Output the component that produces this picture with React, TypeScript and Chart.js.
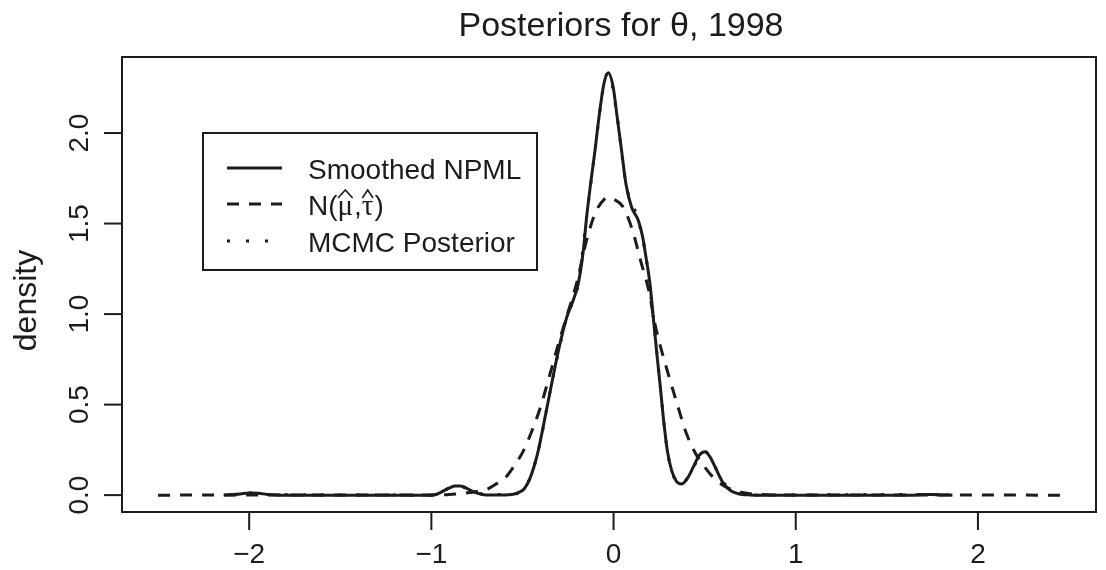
import React, { useEffect, useRef } from "react";
import { Chart, registerables } from "chart.js";

Chart.register(...registerables);

const TITLE = "Posteriors for θ, 1998";
const Y_LABEL = "density";
const X_TICKS = [-2, -1, 0, 1, 2];
const X_TICK_LABELS = ["\u22122", "\u22121", "0", "1", "2"];
const Y_TICKS = [0, 0.5, 1, 1.5, 2];
const Y_TICK_LABELS = ["0.0", "0.5", "1.0", "1.5", "2.0"];
const X_MIN = -2.698;
const X_MAX = 2.648;
const Y_MIN = -0.0932;
const Y_MAX = 2.42;
const LEGEND_LABELS = ["Smoothed NPML", "N(\u03bc\u0302,\u03c4\u0302)", "MCMC Posterior"];

// Smoothed NPML posterior (solid)
const npmlX = [
  -2.14, -2.1, -2.05, -2.0, -1.95, -1.9, -1.85, -1.8, -1.0, -0.97, -0.93, -0.9, -0.87, -0.84,
  -0.8, -0.76, -0.72, -0.68, -0.6, -0.55, -0.52, -0.49, -0.46, -0.43, -0.41, -0.38, -0.34,
  -0.3, -0.257, -0.22, -0.194, -0.166, -0.148, -0.126, -0.102, -0.08, -0.053, -0.029, -0.002,
  0.02, 0.044, 0.068, 0.099, 0.136, 0.16, 0.178, 0.2, 0.218, 0.236, 0.255, 0.273, 0.295,
  0.319, 0.346, 0.374, 0.41, 0.44, 0.47, 0.502, 0.53, 0.56, 0.6, 0.63, 0.655, 0.7, 0.75, 0.8,
  1.65, 1.7, 1.75, 1.8, 1.86,
];
const npmlY = [
  0, 0.002, 0.006, 0.012, 0.01, 0.004, 0.001, 0, 0, 0.005, 0.025, 0.04, 0.05, 0.05,
  0.035, 0.015, 0.004, 0.001, 0.001, 0.005, 0.015, 0.035, 0.09, 0.18, 0.26, 0.41, 0.614,
  0.81, 0.982, 1.08, 1.167, 1.351, 1.535, 1.719, 1.903, 2.087, 2.272, 2.333, 2.253,
  2.087, 1.903, 1.719, 1.59, 1.517, 1.424, 1.314, 1.167, 0.982, 0.798, 0.614, 0.43, 0.246,
  0.135, 0.075, 0.062, 0.1, 0.16, 0.22, 0.24, 0.21, 0.15, 0.07, 0.035, 0.018, 0.005, 0.001, 0,
  0, 0.004, 0.003, 0.001, 0,
];

// Normal posterior N(mu-hat, tau-hat) (dashed)
const normalX = [
  -2.5, -1.0, -0.95, -0.9, -0.85, -0.8, -0.75, -0.7, -0.65, -0.6, -0.55, -0.5, -0.45, -0.4,
  -0.35, -0.3, -0.25, -0.2, -0.15, -0.1, -0.05, -0.03, 0.0, 0.05, 0.1, 0.15, 0.2, 0.22, 0.25,
  0.3, 0.35, 0.4, 0.45, 0.5, 0.55, 0.6, 0.65, 0.7, 0.75, 0.8, 0.9, 2.45,
];
const normalY = [
  0, 0.001, 0.002, 0.004, 0.008, 0.013, 0.02, 0.03, 0.058, 0.09, 0.155, 0.235, 0.35, 0.49,
  0.665, 0.845, 1.01, 1.18, 1.4, 1.56, 1.635, 1.645, 1.635, 1.595, 1.475, 1.29, 1.1, 0.98, 0.85,
  0.67, 0.5, 0.34, 0.23, 0.155, 0.095, 0.055, 0.03, 0.016, 0.008, 0.004, 0.001, 0,
];

// MCMC posterior (dotted, lies under the NPML curve)
const mcmcX = [
  -2.1, -2.0, -1.9, -1.0, -0.9, -0.85, -0.8, -0.7, -0.55, -0.46, -0.41, -0.34, -0.257, -0.194,
  -0.148, -0.102, -0.053, -0.029, 0.02, 0.068, 0.136, 0.178, 0.218, 0.255, 0.295, 0.346, 0.374,
  0.44, 0.502, 0.56, 0.63, 0.7, 0.8, 1.7, 1.86,
];
const mcmcY = [
  0.002, 0.012, 0.004, 0, 0.04, 0.05, 0.035, 0.003, 0.005, 0.09, 0.26, 0.614, 0.982, 1.167,
  1.535, 1.903, 2.272, 2.333, 2.087, 1.719, 1.517, 1.314, 0.982, 0.614, 0.246, 0.075, 0.062,
  0.16, 0.24, 0.15, 0.035, 0.005, 0, 0.004, 0,
];

const FONT = '"Liberation Sans", Arial, Helvetica, sans-serif';
const SERIF = '"Liberation Serif", "DejaVu Serif", serif';
const INK = "#1c1c1c";

const toPoints = (xs: number[], ys: number[]) => xs.map((x, i) => ({ x, y: ys[i] }));

// draws "N(mu-hat, tau-hat)" with wide hats, as in the R plotmath legend
function drawHatLabel(ctx: CanvasRenderingContext2D, x: number, baseline: number) {
  const parts: { t: string; serif: boolean; hat: boolean }[] = [
    { t: "N(", serif: false, hat: false },
    { t: "\u03bc", serif: true, hat: true },
    { t: ",", serif: false, hat: false },
    { t: "\u03c4", serif: true, hat: true },
    { t: ")", serif: false, hat: false },
  ];
  let cx = x;
  parts.forEach((p) => {
    ctx.font = p.serif ? `29px ${SERIF}` : `28px ${FONT}`;
    ctx.fillText(p.t, cx, baseline);
    const w = ctx.measureText(p.t).width;
    if (p.hat) {
      ctx.save();
      ctx.lineWidth = 1.6;
      ctx.setLineDash([]);
      ctx.beginPath();
      ctx.moveTo(cx + 0.5, baseline - 17);
      ctx.lineTo(cx + w / 2, baseline - 25);
      ctx.lineTo(cx + w - 0.5, baseline - 17);
      ctx.stroke();
      ctx.restore();
    }
    cx += w + (p.hat ? 1 : 0);
  });
}

const decorPlugin = {
  id: "rdecor",
  beforeDraw(chart: any) {
    const { ctx, width, height } = chart;
    ctx.save();
    ctx.fillStyle = "#ffffff";
    ctx.fillRect(0, 0, width, height);
    ctx.restore();
  },
  afterDatasetsDraw(chart: any) {
    const { ctx, chartArea } = chart;
    const xs = chart.scales.x;
    const ys = chart.scales.y;
    const { left, right, top, bottom } = chartArea;
    ctx.save();
    ctx.strokeStyle = INK;
    ctx.fillStyle = INK;
    ctx.lineWidth = 2;
    ctx.setLineDash([]);
    // box
    ctx.strokeRect(left, top, right - left, bottom - top);

    // x ticks
    ctx.font = `28px ${FONT}`;
    ctx.textAlign = "center";
    ctx.textBaseline = "alphabetic";
    X_TICKS.forEach((v, i) => {
      const px = xs.getPixelForValue(v);
      ctx.beginPath();
      ctx.moveTo(px, bottom);
      ctx.lineTo(px, bottom + 18);
      ctx.stroke();
      ctx.fillText(X_TICK_LABELS[i], px, 563);
    });

    // y ticks
    Y_TICKS.forEach((v, i) => {
      const py = ys.getPixelForValue(v);
      ctx.beginPath();
      ctx.moveTo(left, py);
      ctx.lineTo(left - 18, py);
      ctx.stroke();
      ctx.save();
      ctx.translate(88, py);
      ctx.rotate(-Math.PI / 2);
      ctx.textAlign = "center";
      ctx.fillText(Y_TICK_LABELS[i], 0, 0);
      ctx.restore();
    });

    // y axis title
    ctx.save();
    ctx.font = `32px ${FONT}`;
    ctx.translate(36, (top + bottom) / 2 + 16);
    ctx.rotate(-Math.PI / 2);
    ctx.textAlign = "center";
    ctx.fillText(Y_LABEL, 0, 0);
    ctx.restore();

    // main title
    ctx.font = `34px ${FONT}`;
    ctx.textAlign = "center";
    ctx.fillText(TITLE, (left + right) / 2 + 12, 36);

    // legend
    const lx = 203, ly = 133, lw = 334, lh = 137;
    ctx.lineWidth = 2;
    ctx.strokeRect(lx, ly, lw, lh);
    const rows = [168, 204, 241];
    const dashes = [[], [12, 10], [3, 16]];
    ctx.textAlign = "left";
    ctx.textBaseline = "alphabetic";
    rows.forEach((ry, i) => {
      ctx.save();
      ctx.lineWidth = 3;
      ctx.lineCap = "butt";
      ctx.setLineDash(dashes[i]);
      ctx.beginPath();
      ctx.moveTo(227, ry);
      ctx.lineTo(282, ry);
      ctx.stroke();
      ctx.restore();
      if (i === 1) {
        drawHatLabel(ctx, 308, ry + 11);
      } else {
        ctx.font = `28px ${FONT}`;
        ctx.fillText(LEGEND_LABELS[i], 308, ry + 10.5);
      }
    });
    ctx.restore();
  },
};

export default function App() {
  const ref = useRef<HTMLCanvasElement | null>(null);
  useEffect(() => {
    document.body.style.margin = "0";
    const canvas = ref.current;
    if (!canvas) return;
    const chart = new Chart(canvas, {
      type: "line",
      data: {
        datasets: [
          {
            label: LEGEND_LABELS[2],
            data: toPoints(mcmcX, mcmcY),
            borderColor: INK,
            borderWidth: 3,
            borderDash: [3, 15],
            pointRadius: 0,
            cubicInterpolationMode: "monotone",
          },
          {
            label: LEGEND_LABELS[1],
            data: toPoints(normalX, normalY),
            borderColor: INK,
            borderWidth: 3,
            borderDash: [12, 10],
            pointRadius: 0,
            cubicInterpolationMode: "monotone",
          },
          {
            label: LEGEND_LABELS[0],
            data: toPoints(npmlX, npmlY),
            borderColor: INK,
            borderWidth: 3,
            pointRadius: 0,
            cubicInterpolationMode: "monotone",
          },
        ],
      },
      options: {
        responsive: false,
        animation: false,
        layout: { padding: { left: 122, right: 10, top: 57, bottom: 58 } },
        plugins: { legend: { display: false }, title: { display: false }, tooltip: { enabled: false } },
        scales: {
          x: { type: "linear", min: X_MIN, max: X_MAX, display: false },
          y: { type: "linear", min: Y_MIN, max: Y_MAX, display: false },
        },
      },
      plugins: [decorPlugin],
    });
    return () => chart.destroy();
  }, []);
  return (
    <div style={{ position: "absolute", left: 0, top: 0, width: 1106, height: 570 }}>
      <canvas ref={ref} width={1106} height={570} style={{ display: "block" }} />
    </div>
  );
}
